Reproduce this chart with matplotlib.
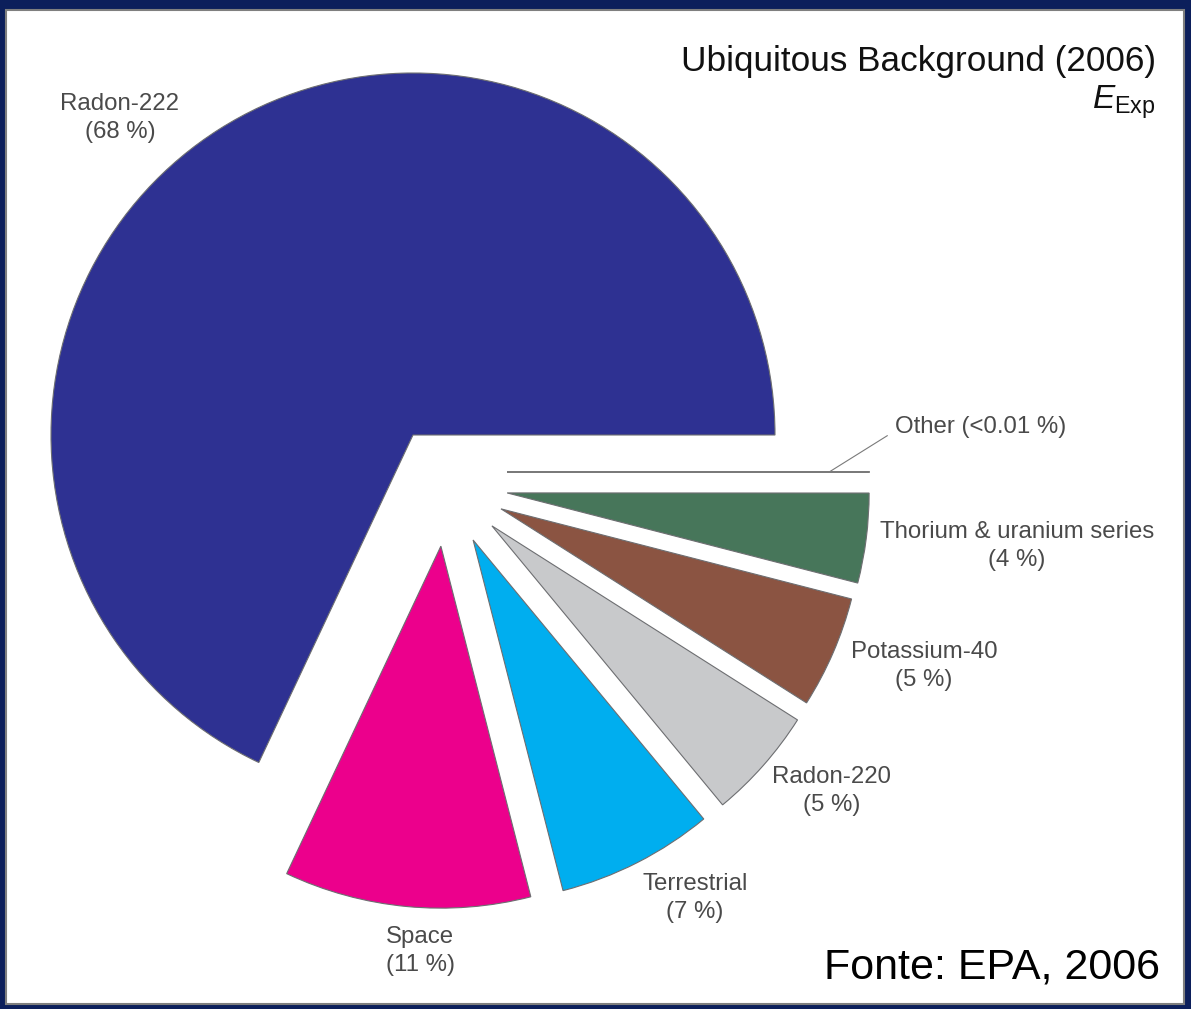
"""
Exploded pie of the ubiquitous background exposure (EPA, 2006).
"""
import matplotlib
matplotlib.use("Agg")
import matplotlib.pyplot as plt
from matplotlib.patches import Rectangle

plt.rcParams["font.family"] = ["Liberation Sans", "DejaVu Sans"]
plt.rcParams["mathtext.fontset"] = "custom"
plt.rcParams["mathtext.rm"] = "Liberation Sans"
plt.rcParams["mathtext.it"] = "Liberation Sans:italic"

SOURCES = ["Radon-222", "Space", "Terrestrial", "Radon-220", "Potassium-40",
           "Thorium & uranium series", "Other"]
PERCENT = [68, 11, 7, 5, 5, 4, 0.005]
PCT_LABELS = ["(68 %)", "(11 %)", "(7 %)", "(5 %)", "(5 %)", "(4 %)", "(<0.01 %)"]
COLORS = ["#2e3192", "#ec008c", "#00aeef", "#c8c9cb", "#8b5442", "#47765a", "#8a8a8a"]

# where each wedge tip sits, in pie radii (the chart shifts the small ones down-right)
TIP_OFFSETS = [(0, 0), (0.077, -0.307), (0.166, -0.290), (0.218, -0.251),
               (0.243, -0.204), (0.260, -0.160), (0.260, -0.102)]

W, H = 1191, 1009
CX, CY, R = 413, 435, 362  # pie centre and radius in pixels


def fpos(x, y):
    """pixel (from top-left) -> figure fraction"""
    return x / W, 1 - y / H


fig = plt.figure(figsize=(W / 100, H / 100), dpi=100, facecolor="#0c1f5b")
fig.patches.append(Rectangle((6 / W, 5 / H), 1178 / W, 994 / H, transform=fig.transFigure,
                             facecolor="white", edgecolor="#7f7f7f", linewidth=1.5, zorder=-10))

ax = fig.add_axes([0, 0, 1, 1])
wedges, _ = ax.pie(PERCENT, colors=COLORS, startangle=0, counterclock=True,
                   wedgeprops=dict(edgecolor="#6d6e71", linewidth=0.8))
for w, off in zip(wedges, TIP_OFFSETS):
    w.set_center(off)
wedges[-1].set_linewidth(1.2)
wedges[-1].set_edgecolor("#7a7a7a")

ax.set_xlim(-CX / R, (W - CX) / R)
ax.set_ylim(-(H - CY) / R, CY / R)
ax.set_aspect("auto")
ax.axis("off")

# leader line for the "Other" sliver
ox, oy = TIP_OFFSETS[-1]
ax.plot([ox + 0.89, ox + 1.05], [oy, oy + 0.10], color="#7a7a7a", lw=0.8)

txt = dict(color="#4a4a4a", fontsize=17.3, ha="center", va="center", linespacing=1.3)
label_px = [(120, 118), (420, 951), (695, 898), (832, 791), (924, 666), (1017, 546)]
for name, pct, (x, y) in zip(SOURCES, PCT_LABELS, label_px):
    fig.text(*fpos(x, y), f"{name}\n{pct}", **txt)
fig.text(*fpos(895, 427), f"{SOURCES[-1]} {PCT_LABELS[-1]}", color="#4a4a4a",
         fontsize=17.3, ha="left", va="center")

fig.text(*fpos(1156, 62), "Ubiquitous Background (2006)", fontsize=25.3, ha="right",
         va="center", color="#111111")
fig.text(*fpos(1156, 102), r"$\mathit{E}_{\mathrm{Exp}}$", fontsize=24, ha="right",
         va="center", color="#111111")
fig.text(*fpos(1160, 967), "Fonte: EPA, 2006", fontsize=31, ha="right", va="center",
         color="black")

fig.savefig("out.png", dpi=100, facecolor=fig.get_facecolor())
